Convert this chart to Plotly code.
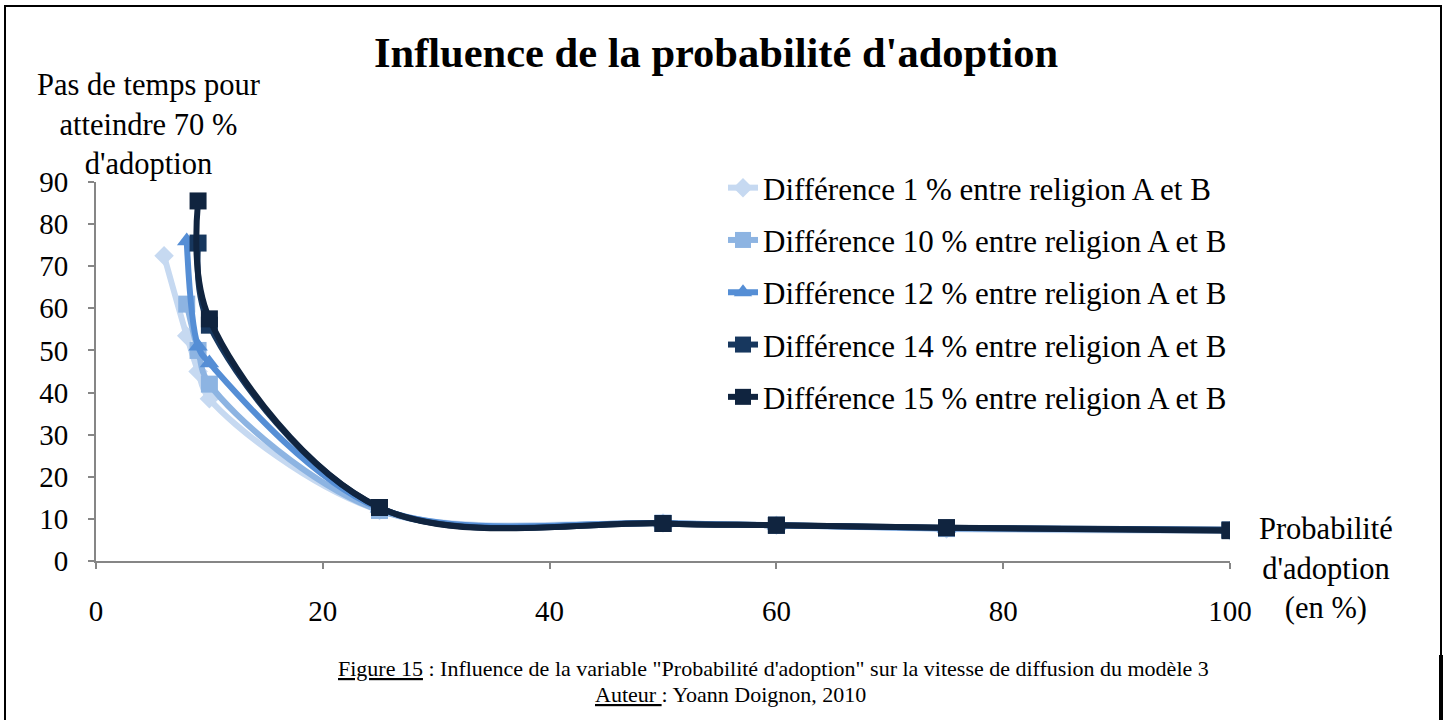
import plotly.graph_objects as go

# ---- data ----
x_d1 = [6, 8, 9, 10, 25, 50, 60, 75, 100]
y_d1 = [72.5, 53.5, 45, 38.5, 12, 9, 8.5, 7.6, 7.2]

x_d10 = [8, 9, 10, 25, 50, 60, 75, 100]
y_d10 = [61, 50, 42, 12, 9, 8.5, 7.7, 7.3]

x_d12 = [8, 9, 10, 25, 50, 60, 75, 100]
y_d12 = [76, 51, 47, 12.5, 9, 8.5, 7.8, 7.4]

x_d14 = [9, 10, 25, 50, 60, 75, 100]
y_d14 = [75.5, 56, 12.7, 8.9, 8.5, 7.9, 7.4]

x_d15 = [9, 10, 25, 50, 60, 75, 100]
y_d15 = [85.5, 57.5, 12.7, 8.9, 8.5, 7.9, 7.2]

series_names = [
    "Différence 1 % entre religion A et B",
    "Différence 10 % entre religion A et B",
    "Différence 12 % entre religion A et B",
    "Différence 14 % entre religion A et B",
    "Différence 15 % entre religion A et B",
]
x_ticks = [0, 20, 40, 60, 80, 100]
y_ticks = [0, 10, 20, 30, 40, 50, 60, 70, 80, 90]

colors = ["#C6D9F1", "#8DB4E2", "#558ED5", "#17375E", "#10243F"]
symbols = ["diamond", "square", "triangle-up", "square", "square"]
sizes = [15, 17, 17, 17, 17]

FONT = "Liberation Serif"

fig = go.Figure()
for i, (xs, ys) in enumerate([(x_d1, y_d1), (x_d10, y_d10), (x_d12, y_d12),
                              (x_d14, y_d14), (x_d15, y_d15)]):
    fig.add_trace(go.Scatter(
        x=xs, y=ys, name=series_names[i], mode="lines+markers",
        legendgroup=str(i),
        line=dict(color=colors[i], width=6, shape="spline", smoothing=1.0),
        marker=dict(symbol=symbols[i], size=sizes[i], color=colors[i],
                    line=dict(width=0)),
    ))

W, H = 1445, 720
L, T = 96, 182
R = W - 1230
B = H - 561
pw, ph = W - L - R, H - T - B


def px2paper_x(px):
    return (px - L) / pw


def px2paper_y(py):
    return (H - B - py) / ph


fig.update_layout(
    width=W, height=H,
    margin=dict(l=L, r=R, t=T, b=B, autoexpand=False),
    paper_bgcolor="white", plot_bgcolor="white",
    font=dict(family=FONT, color="black", size=29),
    title=dict(text="<b>Influence de la probabilité d'adoption</b>",
               x=716 / W, xanchor="center", y=1 - 52 / H, yanchor="middle",
               font=dict(family=FONT, size=42.5, color="black")),
    xaxis=dict(range=[0, 100], tickvals=x_ticks, showgrid=False, zeroline=False,
               showline=True, linecolor="#868686", linewidth=2,
               ticks="outside", ticklen=6, tickcolor="#868686", tickwidth=2,
               ticklabelstandoff=17,
               tickfont=dict(family=FONT, size=29, color="black")),
    yaxis=dict(range=[0, 90], tickvals=y_ticks, showgrid=False, zeroline=False,
               showline=True, linecolor="#868686", linewidth=2,
               ticks="outside", ticklen=6, tickcolor="#868686", tickwidth=2,
               ticklabelstandoff=14,
               tickfont=dict(family=FONT, size=29, color="black")),
    legend=dict(x=px2paper_x(723), y=px2paper_y(161), xanchor="left", yanchor="top",
                traceorder="grouped", tracegroupgap=9,
                bgcolor="rgba(0,0,0,0)",
                font=dict(family=FONT, size=31, color="black")),
    showlegend=True,
)

# axis titles
fig.add_annotation(text="Pas de temps pour<br>atteindre 70 %<br>d'adoption",
                   xref="paper", yref="paper", x=px2paper_x(148), y=px2paper_y(124),
                   xanchor="center", yanchor="middle", showarrow=False,
                   font=dict(family=FONT, size=30.5, color="black"), align="center")
fig.add_annotation(text="Probabilité<br>d'adoption<br>(en %)",
                   xref="paper", yref="paper", x=px2paper_x(1326), y=px2paper_y(568),
                   xanchor="center", yanchor="middle", showarrow=False,
                   font=dict(family=FONT, size=30.5, color="black"), align="center")

# caption
fig.add_annotation(text="<u>Figure 15</u> : Influence de la variable \"Probabilité d'adoption\" sur la vitesse de diffusion du modèle 3",
                   xref="paper", yref="paper", x=px2paper_x(773), y=px2paper_y(668),
                   xanchor="center", yanchor="middle", showarrow=False,
                   font=dict(family=FONT, size=22, color="black"))
fig.add_annotation(text="<u>Auteur </u>: Yoann Doignon, 2010",
                   xref="paper", yref="paper", x=px2paper_x(730), y=px2paper_y(694),
                   xanchor="center", yanchor="middle", showarrow=False,
                   font=dict(family=FONT, size=22, color="black"))

# outer frame
fig.add_shape(type="rect", xref="paper", yref="paper",
              x0=px2paper_x(5), x1=px2paper_x(1441),
              y0=px2paper_y(730), y1=px2paper_y(6),
              line=dict(color="black", width=2), layer="above")
fig.add_shape(type="line", xref="paper", yref="paper",
              x0=px2paper_x(1441), x1=px2paper_x(1441),
              y0=px2paper_y(655), y1=px2paper_y(720),
              line=dict(color="black", width=4), layer="above")

fig.write_html("out.html", config={"displayModeBar": False},
               post_script="document.body.style.margin='0px';")
